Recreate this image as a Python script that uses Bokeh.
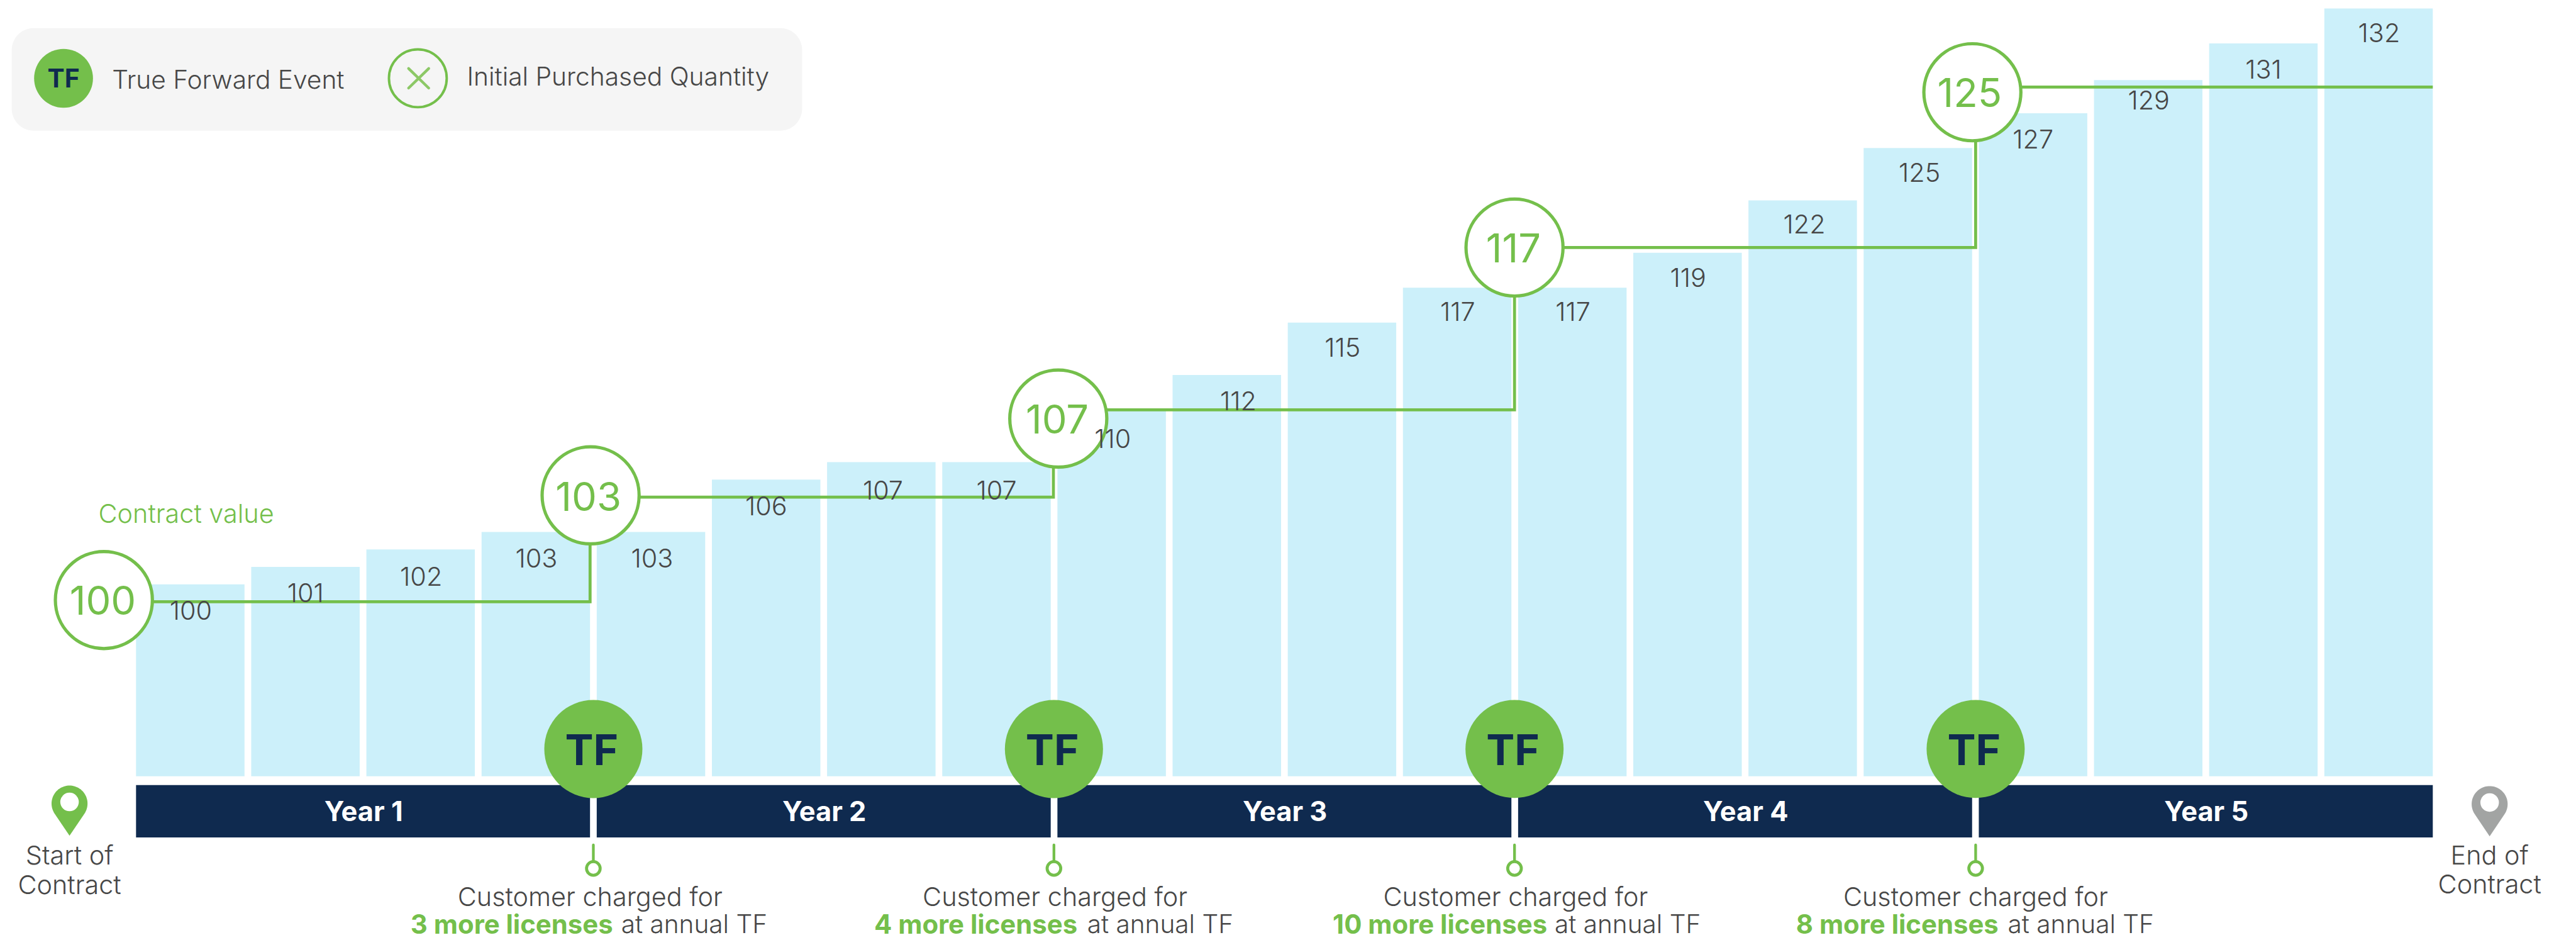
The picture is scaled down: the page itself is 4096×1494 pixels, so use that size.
import math
from bokeh.plotting import figure
from bokeh.models import Range1d
from bokeh.core.properties import value
from bokeh.embed import file_html
from bokeh.resources import INLINE

# ---- data ----
bar_labels = [100, 101, 102, 103, 103, 106, 107, 107, 110, 112, 115, 117, 117, 119, 122, 125, 127, 129, 131, 132]
bar_heights = [100, 101, 102, 103, 103, 106, 107, 107, 110, 112, 115, 117, 117, 119, 122, 125, 127, 128.9, 131, 133]
contract_values = [100, 103, 107, 117, 125]
contract_line_levels = [99.0, 105.0, 110.0, 119.3, 128.5]
contract_circle_levels = [99.1, 105.1, 109.5, 119.3, 128.2]
year_labels = ["Year 1", "Year 2", "Year 3", "Year 4", "Year 5"]
license_counts = ["3 more licenses", "4 more licenses", "10 more licenses", "8 more licenses"]
chart_floor = 89

# ---- layout, in pixels of the 4726x1724 reference ----
S = 4096 / 4726
W, H = 4096, 1494
BAR0, PITCH, BARW = 348.5, 211.3, 199
FONT = "Inter"
LIGHT = "Inter Light"
GREEN, NAVY, BLUE, TEXT, GREY = "#74BF4B", "#0F2A4F", "#CCF0FA", "#474747", "#A2A4A3"
BASE_SHIFT = 0.36
FS = 47.7
label_dx = [1, 0, 1, 1, 2, 0, 3, 0, 2, 21, 1, 1, 1, 1, 3, 3, 0, 1, 0, 1]
label_dy = [65, 64, 66, 65, 65, 65, 68, 68, 70, 65, 62, 61, 61, 62, 60, 62, 65, 54, 65, 62]
circle_cx = [190, 1083, 1941, 2778, 3618]
circle_text_cx = [188, 1079, 1939, 2776, 3613]
circle_text_dy = [26.5, 28, 27, 27, 27]
riser_x = [1082, 1932, 2778, 3624]
tf_cx = [1088, 1933, 2778, 3624]
line1_cx = [1082, 1935, 2780, 3624]
bold_right = [1124, 1976, 2838, 3666]
reg_left = [1139, 1994, 2851.5, 3683]


def X(px):
    return (px - BAR0) / PITCH


def Y(py):
    return 100 + (1071 - py) / 32


p = figure(width=W, height=H, output_backend="svg", toolbar_location=None,
           x_range=Range1d(X(0), X(W / S)), y_range=Range1d(Y(H / S), Y(0)),
           min_border=0, min_border_left=0, min_border_right=0, min_border_top=0, min_border_bottom=0,
           outline_line_color=None, background_fill_color="white", border_fill_color="white")
p.axis.visible = False
p.grid.visible = False


def put(x, y, text, size, color=TEXT, align="center", style="normal", font=LIGHT):
    p.text(x=[X(x)], y=[Y(y - BASE_SHIFT * size)], text=[text], text_font=value(font),
           text_font_size=f"{size * S:.2f}px", text_color=color, text_align=align,
           text_baseline="alphabetic", text_font_style=style)


def round_box(l, t, r, b, rad):
    xs, ys = [], []
    for cx, cy, a0 in [(r - rad, t + rad, -90), (r - rad, b - rad, 0), (l + rad, b - rad, 90), (l + rad, t + rad, 180)]:
        for k in range(0, 19):
            a = math.radians(a0 + 5 * k)
            xs.append(X(cx + rad * math.cos(a)))
            ys.append(Y(cy + rad * math.sin(a)))
    return xs, ys


def pin(cx, cy, r, tip, color):
    d = tip - cy
    ang = math.acos(r / d)
    xs, ys = [X(cx)], [Y(tip)]
    start = math.pi / 2 - ang
    end = math.pi / 2 + ang - 2 * math.pi
    for k in range(61):
        a = start + (end - start) * k / 60
        xs.append(X(cx + r * math.cos(a)))
        ys.append(Y(cy + r * math.sin(a)))
    p.patch(xs, ys, fill_color=color, line_color=None)
    p.scatter([X(cx)], [Y(cy - 3)], size=34 * S, marker="circle", fill_color="white", line_color=None)


# legend
bx, by = round_box(21, 51, 1471, 239, 40)
p.patch(bx, by, fill_color="#F5F5F5", line_color=None)
p.scatter([X(116)], [Y(143)], size=108 * S, marker="circle", fill_color=GREEN, line_color=None)
put(116, 160, "TF", 47, NAVY, style="bold", font=FONT)
put(205, 162, "True Forward Event", 46.9, align="left")
p.scatter([X(766)], [Y(143)], size=106 * S, marker="circle", fill_color="#F5F5F5", line_color=GREEN, line_width=4.5 * S)
p.segment([X(749), X(786)], [Y(125), Y(125)], [X(786), X(749)], [Y(161), Y(161)], line_color="#8CC866",
          line_width=5 * S, line_cap="round")
put(856, 156, "Initial Purchased Quantity", 47, align="left")

# bars
idx = list(range(len(bar_heights)))
p.vbar(x=idx, top=bar_heights, bottom=chart_floor, width=BARW / PITCH, fill_color=BLUE, line_color=None)

# year band
edges = [0, 4, 8, 12, 16, 20]
for k, lab in enumerate(year_labels):
    left = edges[k] - 0.5 * BARW / PITCH
    right = edges[k + 1] - 1 + 0.5 * BARW / PITCH
    p.quad(left=[left], right=[right], top=[Y(1439)], bottom=[Y(1535)], fill_color=NAVY, line_color=None)
    mid_px = BAR0 + PITCH * (left + right) / 2
    put(mid_px + 1, 1505, lab, 50, "white", style="bold", font=FONT)

# contract value step line
lx, ly = [X(circle_cx[0])], [contract_line_levels[0]]
for k, rx in enumerate(riser_x):
    lx += [X(rx), X(rx)]
    ly += [contract_line_levels[k], contract_line_levels[k + 1]]
lx.append(idx[-1] + 0.5 * BARW / PITCH)
ly.append(contract_line_levels[-1])
p.line(lx, ly, line_color=GREEN, line_width=5.5 * S, line_join="miter")

# contract value circles
p.scatter([X(c) for c in circle_cx], contract_circle_levels, size=178 * S, marker="circle",
          fill_color="white", line_color=GREEN, line_width=6 * S)
for k, v in enumerate(contract_values):
    cy = 1071 - (contract_circle_levels[k] - 100) * 32
    put(circle_text_cx[k], cy + circle_text_dy[k], str(v), 73, GREEN, font=FONT)
put(180, 958, "Contract value", FS, GREEN, align="left")

# bar labels
for i, (lab, h) in enumerate(zip(bar_labels, bar_heights)):
    top_px = 1071 - (h - 100) * 32
    put(BAR0 + i * PITCH + label_dx[i], top_px + label_dy[i], str(lab), FS)

# TF markers, connectors and captions
for k, cx in enumerate(tf_cx):
    p.scatter([X(cx)], [Y(1373)], size=180 * S, marker="circle", fill_color=GREEN, line_color=None)
    put(cx - 3, 1402, "TF", 78, NAVY, style="bold", font=FONT)
    p.line([X(cx), X(cx)], [Y(1549), Y(1578)], line_color=GREEN, line_width=5 * S, line_cap="round")
    p.scatter([X(cx)], [Y(1592)], size=25 * S, marker="circle", fill_color="white", line_color=GREEN, line_width=5.5 * S)
    put(line1_cx[k], 1661, "Customer charged for", FS)
    put(bold_right[k], 1711, license_counts[k], 48.3, GREEN, align="right", style="bold", font=FONT)
    put(reg_left[k], 1711, "at annual TF", 46.8, align="left")

# pins
pin(127, 1473, 33, 1532, GREEN)
put(127, 1585, "Start of", FS)
put(127, 1639, "Contract", FS)
pin(4567, 1474, 33, 1533, GREY)
put(4567, 1585, "End of", FS)
put(4567, 1638, "Contract", FS)

open("out.html", "w").write(file_html(p, INLINE))
